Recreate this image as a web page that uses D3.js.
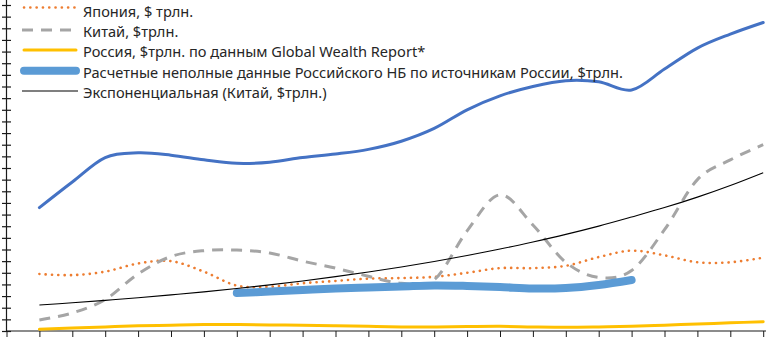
<!DOCTYPE html>
<html>
<head>
<meta charset="utf-8">
<script src="https://cdn.jsdelivr.net/npm/d3@7"></script>
<style>
  html, body { margin: 0; padding: 0; background: #fff; }
  svg { display: block; }
</style>
</head>
<body>
<div id="chart"></div>
<script>
// categories: first slot is empty, data starts on the second tick
var categories = ["", "2000", "2001", "2002", "2003", "2004", "2005", "2006", "2007", "2008", "2009",
  "2010", "2011", "2012", "2013", "2014", "2015", "2016", "2017", "2018", "2019", "2020", "2021", "2022"];

// series values ($ трлн.)
var usaVals   = [null, 10.6, 12.8, 14.9, 15.3, 15.1, 14.7, 14.4, 14.5, 14.9, 15.2, 15.6, 16.3, 17.4, 19.0,
  20.2, 21.0, 21.5, 21.4, 20.7, 22.5, 24.3, 25.5, 26.5];
var japanVals = [null, 4.9, 4.8, 5.1, 5.8, 6.0, 5.1, 3.9, 3.8, 4.1, 4.3, 4.5, 4.55, 4.65, 5.0,
  5.4, 5.4, 5.6, 6.35, 6.9, 6.5, 5.9, 5.9, 6.3];
var chinaVals = [null, 0.95, 1.55, 2.7, 4.9, 6.4, 6.9, 6.95, 6.7, 6.0, 5.4, 4.7, 4.1, 4.4, 8.6,
  11.7, 9.1, 5.9, 4.6, 5.2, 8.7, 13.0, 14.7, 16.0];
var russiaVals = [null, 0.15, 0.25, 0.35, 0.45, 0.5, 0.55, 0.55, 0.52, 0.5, 0.45, 0.4, 0.35, 0.35, 0.38,
  0.4, 0.35, 0.32, 0.35, 0.4, 0.5, 0.6, 0.7, 0.8];
var nbVals    = [null, null, null, null, null, null, null, 3.26, 3.39, 3.52, 3.65, 3.74, 3.82, 3.91, 3.87,
  3.78, 3.65, 3.69, 3.95, 4.38, null, null, null, null];
var trendVals = [null, 2.23, 2.42, 2.63, 2.85, 3.1, 3.36, 3.65, 3.96, 4.3, 4.67, 5.07, 5.5, 5.97, 6.49,
  7.04, 7.65, 8.3, 9.01, 9.79, 10.6, 11.5, 12.5, 13.6];

var legendLabels = [
  "Япония, $ трлн.",
  "Китай, $трлн.",
  "Россия, $трлн. по данным Global Wealth Report*",
  "Расчетные неполные данные Российского НБ по источникам России, $трлн.",
  "Экспоненциальная (Китай, $трлн.)"
];

var width = 766, height = 339;
var axisY = 331, axisX = 6.5;

var svg = d3.select("#chart").append("svg")
  .attr("width", width)
  .attr("height", height);

var x = d3.scalePoint()
  .domain(categories)
  .range([axisX, 763.2]);

var y = d3.scaleLinear()
  .domain([0, 28])
  .range([axisY, 5]);

// axes
var xAxis = svg.append("g")
  .attr("transform", "translate(0," + axisY + ")")
  .call(d3.axisBottom(x).tickSize(6).tickSizeOuter(0).tickFormat(""));
xAxis.select(".domain").remove();
xAxis.selectAll(".tick line").attr("stroke", "#1a1a1a").attr("stroke-width", 1);
svg.append("line")
  .attr("x1", axisX).attr("x2", width)
  .attr("y1", axisY).attr("y2", axisY)
  .attr("stroke", "#1a1a1a").attr("stroke-width", 1.2);

var yAxis = svg.append("g")
  .attr("transform", "translate(" + axisX + ",0)")
  .call(d3.axisLeft(y).tickValues(d3.range(0, 29)).tickSizeOuter(0).tickFormat(""));
yAxis.select(".domain").remove();
yAxis.selectAll(".tick line")
  .attr("x1", -4.5).attr("x2", 4.5)
  .attr("stroke", "#1a1a1a").attr("stroke-width", 1.2);
svg.append("line")
  .attr("x1", axisX).attr("x2", axisX)
  .attr("y1", 0).attr("y2", axisY)
  .attr("stroke", "#1a1a1a").attr("stroke-width", 1.2);

function makeLine(vals, curve) {
  return d3.line()
    .defined(function (d) { return d != null; })
    .x(function (d, i) { return x(categories[i]); })
    .y(function (d) { return y(d); })
    .curve(curve)(vals);
}

// excel-like smoothing
var smooth = d3.curveCatmullRom.alpha(0);

// series
var series = [
  {vals: usaVals,    stroke: "#4472C4", w: 3,   dash: null,  cap: "round"},
  {vals: japanVals,  stroke: "#ED7D31", w: 2.6, dash: "0.1 6.2", cap: "round"},
  {vals: chinaVals,  stroke: "#A5A5A5", w: 3,   dash: "11 8", cap: "butt"},
  {vals: russiaVals, stroke: "#FFC000", w: 3,   dash: null,  cap: "round"},
  {vals: nbVals,     stroke: "#5B9BD5", w: 8,   dash: null,  cap: "round"},
  {vals: trendVals,  stroke: "#000000", w: 1.1, dash: null,  cap: "butt"}
];

series.forEach(function (s) {
  svg.append("path")
    .attr("d", makeLine(s.vals, smooth))
    .attr("fill", "none")
    .attr("stroke", s.stroke)
    .attr("stroke-width", s.w)
    .attr("stroke-linecap", s.cap)
    .attr("stroke-dasharray", s.dash);
});

// legend (the first series has no entry)
var legendY = [7.5, 30, 50, 70.7, 91];
var legend = svg.append("g").attr("id", "legend");
legendLabels.forEach(function (label, k) {
  var s = series[k + 1];
  legend.append("line")
    .attr("x1", s.cap === "round" ? 24 : 22).attr("x2", s.cap === "round" ? 76 : 78)
    .attr("y1", legendY[k]).attr("y2", legendY[k])
    .attr("stroke", s.stroke)
    .attr("stroke-width", s.w)
    .attr("stroke-linecap", s.cap)
    .attr("stroke-dasharray", s.dash);
  legend.append("text")
    .attr("x", 83)
    .attr("y", legendY[k] + 5.5 + (k === 0 ? 4 : 1.5))
    .attr("font-family", "'Noto Sans', sans-serif")
    .attr("font-size", "14.6px")
    .attr("fill", "#262626")
    .text(label);
});
</script>
</body>
</html>
